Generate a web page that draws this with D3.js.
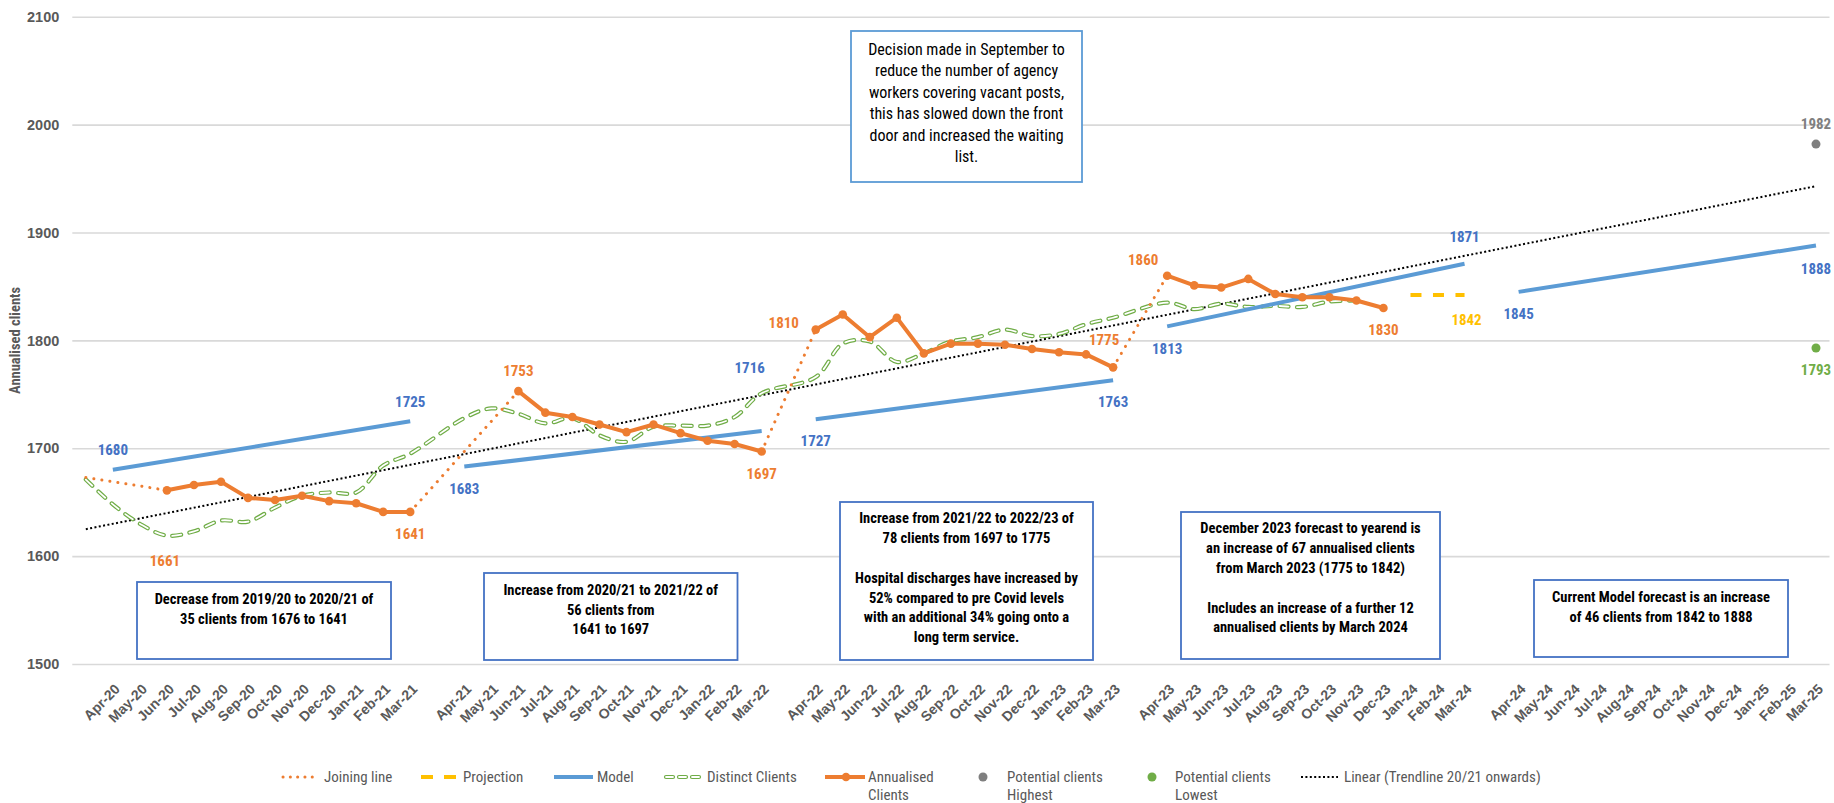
<!DOCTYPE html>
<html>
<head>
<meta charset="utf-8">
<script src="https://cdn.jsdelivr.net/npm/d3@7"></script>
<style>
  body { margin: 0; background: #fff; }
  svg { display: block; font-family: "Liberation Sans Narrow", "Arial Narrow", "Roboto Condensed", "Liberation Sans", sans-serif; }
</style>
</head>
<body>
<svg width="1834" height="803"></svg>
<script>
// category axis: blank category between financial years (and one before Apr-20)
var tickLabels = ["",
  "Apr-20","May-20","Jun-20","Jul-20","Aug-20","Sep-20","Oct-20","Nov-20","Dec-20","Jan-21","Feb-21","Mar-21", "",
  "Apr-21","May-21","Jun-21","Jul-21","Aug-21","Sep-21","Oct-21","Nov-21","Dec-21","Jan-22","Feb-22","Mar-22", "",
  "Apr-22","May-22","Jun-22","Jul-22","Aug-22","Sep-22","Oct-22","Nov-22","Dec-22","Jan-23","Feb-23","Mar-23", "",
  "Apr-23","May-23","Jun-23","Jul-23","Aug-23","Sep-23","Oct-23","Nov-23","Dec-23","Jan-24","Feb-24","Mar-24", "",
  "Apr-24","May-24","Jun-24","Jul-24","Aug-24","Sep-24","Oct-24","Nov-24","Dec-24","Jan-25","Feb-25","Mar-25"];

var yTicks = [1500, 1600, 1700, 1800, 1900, 2000, 2100];

var annualised = [null,
  null, null, 1661, 1666, 1669, 1654, 1652, 1656, 1651, 1649, 1641, 1641, null,
  null, null, 1753, 1733, 1729, 1722, 1715, 1722, 1714, 1707, 1704, 1697, null,
  1810, 1824, 1803, 1821, 1788, 1797, 1797, 1796, 1792, 1789, 1787, 1775, null,
  1860, 1851, 1849, 1857, 1843, 1840, 1840, 1837, 1830, null, null, null, null,
  null, null, null, null, null, null, null, null, null, null, null, null];

var distinct = [1671,
  1648, 1630, 1619, 1623, 1633, 1632, 1645, 1656, 1659, 1659, 1684, 1695, null,
  1728, 1737, 1732, 1723, 1728, 1712, 1706, 1720, 1721, 1721, 1729, 1751, null,
  1766, 1797, 1799, 1780, 1788, 1799, 1803, 1810, 1804, 1806, 1815, 1821, null,
  1835, 1829, 1834, 1831, 1832, 1831, 1836, 1837, null, null, null, null, null,
  null, null, null, null, null, null, null, null, null, null, null, null];

var projectionCats = ["Jan-24", "Feb-24", "Mar-24"];
var projection = [1842, 1842, 1842];

// joining line: year end value to first annualised value of next year
var joinFrom = [0, 12, 25, 38];
var joinTo = [3, 16, 27, 40];
var joinStart = [1673, 1641, 1697, 1775];
var joinEnd = [1661, 1753, 1810, 1860];

var modelFrom = ["Apr-20", "Apr-21", "Apr-22", "Apr-23", "Apr-24"];
var modelTo = ["Mar-21", "Mar-22", "Mar-23", "Mar-24", "Mar-25"];
var modelStart = [1680, 1683, 1727, 1813, 1845];
var modelEnd = [1725, 1716, 1763, 1871, 1888];

var trendStart = 1625, trendEnd = 1943;   // linear trendline at first / last category

var potentialCat = "Mar-25";
var potentialHigh = 1982, potentialLow = 1793;

var orange = "#ED7D31", blue = "#5B9BD5", darkBlue = "#4472C4", green = "#70AD47",
    yellow = "#FFC000", grey = "#7F7F7F", textGrey = "#595959";

var svg = d3.select("svg");
var plotLeft = 72.3, plotRight = 1829.5, plotTop = 16.8, plotBottom = 664;

var x = d3.scaleBand().domain(d3.range(tickLabels.length)).range([plotLeft, plotRight]);
var y = d3.scaleLinear().domain([1500, 2100]).range([plotBottom, plotTop]);
function cx(i) { return x(i) + x.bandwidth() / 2; }
function idx(label) { return tickLabels.indexOf(label); }

// gridlines + y labels
svg.append("g").attr("transform", "translate(" + plotLeft + ",0)")
    .call(d3.axisLeft(y).tickValues(yTicks).tickFormat(d3.format("d"))
        .tickSize(-(plotRight - plotLeft)).tickPadding(13))
    .call(function (g) {
        g.select(".domain").remove();
        g.selectAll("line").attr("stroke", "#d9d9d9").attr("stroke-width", 1.6);
        g.selectAll("text").attr("fill", textGrey).style("font-size", "14.5px").style("font-weight", "bold");
    });

// x labels
svg.append("g").attr("transform", "translate(0," + plotBottom + ")")
    .call(d3.axisBottom(x).tickFormat(function (i) { return tickLabels[i]; }).tickSize(0))
    .call(function (g) {
        g.select(".domain").remove();
        g.selectAll("text")
            .attr("y", 0).attr("dy", 0)
            .attr("text-anchor", "end")
            .attr("transform", "translate(8,26) rotate(-45)")
            .attr("fill", textGrey)
            .style("font-size", "14px").style("font-weight", "bold");
    });

// y title
svg.append("text")
    .attr("transform", "translate(20," + ((plotTop + plotBottom) / 2) + ") rotate(-90)")
    .attr("text-anchor", "middle")
    .attr("fill", textGrey).style("font-size", "14.5px").style("font-weight", "bold")
    .text("Annualised clients");

var line = d3.line().x(function (d) { return cx(d[0]); }).y(function (d) { return y(d[1]); });

// trendline
svg.append("path")
    .attr("d", line([[0, trendStart], [tickLabels.length - 1, trendEnd]]))
    .attr("fill", "none").attr("stroke", "#000").attr("stroke-width", 2)
    .attr("stroke-dasharray", "2 2.4");

// distinct clients: hollow dashes (outer green, inner white)
var distinctPts = distinct.map(function (v, i) { return [i, v]; }).filter(function (d) { return d[1] != null; });
var smooth = d3.line().curve(d3.curveCatmullRom.alpha(0.5))
    .x(function (d) { return cx(d[0]); }).y(function (d) { return y(d[1]); });
svg.append("path").attr("d", smooth(distinctPts))
    .attr("fill", "none").attr("stroke", green).attr("stroke-width", 4.2)
    .attr("stroke-linecap", "round").attr("stroke-dasharray", "9 8.5");
svg.append("path").attr("d", smooth(distinctPts))
    .attr("fill", "none").attr("stroke", "#fff").attr("stroke-width", 1.8)
    .attr("stroke-linecap", "round").attr("stroke-dasharray", "9 8.5");

// model
modelStart.forEach(function (v, k) {
    svg.append("path")
        .attr("d", line([[idx(modelFrom[k]), v], [idx(modelTo[k]), modelEnd[k]]]))
        .attr("fill", "none").attr("stroke", blue).attr("stroke-width", 4);
});

// joining line
joinStart.forEach(function (v, k) {
    svg.append("path")
        .attr("d", line([[joinFrom[k], v], [joinTo[k], joinEnd[k]]]))
        .attr("fill", "none").attr("stroke", orange).attr("stroke-width", 3)
        .attr("stroke-linecap", "round").attr("stroke-dasharray", "0.1 8");
});

// projection
svg.append("path")
    .attr("d", line(projection.map(function (v, k) { return [idx(projectionCats[k]), v]; })))
    .attr("fill", "none").attr("stroke", yellow).attr("stroke-width", 4)
    .attr("stroke-dasharray", "11 11.5");

// annualised clients
var annPts = annualised.map(function (v, i) { return [i, v]; });
svg.append("path")
    .attr("d", d3.line().defined(function (d) { return d[1] != null; })
        .x(function (d) { return cx(d[0]); }).y(function (d) { return y(d[1]); })(annPts))
    .attr("fill", "none").attr("stroke", orange).attr("stroke-width", 4).attr("stroke-linejoin", "round");
svg.append("g").selectAll("circle")
    .data(annPts.filter(function (d) { return d[1] != null; }))
    .enter().append("circle")
    .attr("cx", function (d) { return cx(d[0]); })
    .attr("cy", function (d) { return y(d[1]); })
    .attr("r", 4.3).attr("fill", orange);

// potential clients
svg.append("circle").attr("cx", cx(idx(potentialCat))).attr("cy", y(potentialHigh)).attr("r", 4.5).attr("fill", grey);
svg.append("circle").attr("cx", cx(idx(potentialCat))).attr("cy", y(potentialLow)).attr("r", 4.5).attr("fill", green);

// data labels (value, category index, offset)
var labels = [
    [modelStart[0], idx(modelFrom[0]), 0, -20, darkBlue],
    [modelEnd[0], idx(modelTo[0]), 0, -20, darkBlue],
    [modelStart[1], idx(modelFrom[1]), 0, 22, darkBlue],
    [modelEnd[1], idx(modelTo[1]), -12, -63, darkBlue],
    [modelStart[2], idx(modelFrom[2]), 0, 22, darkBlue],
    [modelEnd[2], idx(modelTo[2]), 0, 21, darkBlue],
    [modelStart[3], idx(modelFrom[3]), 0, 22, darkBlue],
    [modelEnd[3], idx(modelTo[3]), 0, -27, darkBlue],
    [modelStart[4], idx(modelFrom[4]), 0, 22, darkBlue],
    [modelEnd[4], idx(modelTo[4]), 0, 23, darkBlue],
    [annualised[3], 3, -2, 70, orange],
    [annualised[12], 12, 0, 22, orange],
    [annualised[16], 16, 0, -20, orange],
    [annualised[25], 25, 0, 22, orange],
    [annualised[27], 27, -32, -7, orange],
    [annualised[38], 38, -9, -28, orange],
    [annualised[40], 40, -24, -16, orange],
    [annualised[48], 48, 0, 22, orange],
    [projection[2], idx(projectionCats[2]), 2, 25, yellow],
    [potentialHigh, idx(potentialCat), 0, -20, grey],
    [potentialLow, idx(potentialCat), 0, 22, green]
];
svg.append("g").selectAll("text").data(labels).enter().append("text")
    .attr("x", function (d) { return cx(d[1]) + d[2]; })
    .attr("y", function (d) { return y(d[0]) + d[3]; })
    .attr("dy", "0.35em").attr("text-anchor", "middle")
    .attr("fill", function (d) { return d[4]; })
    .style("font-size", "15px").style("font-weight", "bold")
    .text(function (d) { return d[0]; });

// annotation boxes
var notes = [
    { box: [137, 582, 391, 659], first: 599, step: 20, bold: true, border: darkBlue,
      lines: ["Decrease from 2019/20 to 2020/21 of", "35 clients from 1676 to 1641"] },
    { box: [484, 573, 737.5, 660], first: 590, step: 19.7, bold: true, border: darkBlue,
      lines: ["Increase from 2020/21 to 2021/22 of", "56 clients from", "1641 to 1697"] },
    { box: [840, 502, 1093, 660], first: 518.3, step: 19.8, bold: true, border: darkBlue,
      lines: ["Increase from 2021/22 to 2022/23 of", "78 clients from 1697 to 1775", "",
              "Hospital discharges have increased by", "52% compared to pre Covid levels",
              "with an additional 34% going onto a", "long term service."] },
    { box: [1181, 512, 1440, 659], first: 528.3, step: 19.8, bold: true, border: darkBlue,
      lines: ["December 2023 forecast to yearend is", "an increase of 67 annualised clients",
              "from March 2023 (1775 to 1842)", "", "Includes an increase of a further 12",
              "annualised clients by March 2024"] },
    { box: [1534, 580, 1788, 657], first: 596.7, step: 20, bold: true, border: darkBlue,
      lines: ["Current Model forecast is an increase", "of 46 clients from 1842 to 1888"] },
    { box: [851, 31, 1082, 182], first: 49, step: 21.5, bold: false, border: blue,
      lines: ["Decision made in September to", "reduce the number of agency",
              "workers covering vacant posts,", "this has slowed down the front",
              "door and increased the waiting", "list."] }
];
notes.forEach(function (n) {
    var g = svg.append("g");
    g.append("rect").attr("x", n.box[0]).attr("y", n.box[1])
        .attr("width", n.box[2] - n.box[0]).attr("height", n.box[3] - n.box[1])
        .attr("fill", "#fff").attr("stroke", n.border).attr("stroke-width", 1.8);
    g.selectAll("text").data(n.lines).enter().append("text")
        .attr("x", (n.box[0] + n.box[2]) / 2)
        .attr("y", function (d, i) { return n.first + i * n.step; })
        .attr("dy", "0.35em").attr("text-anchor", "middle").attr("fill", "#000")
        .style("font-size", n.bold ? "14.5px" : "16px")
        .style("font-weight", n.bold ? "bold" : "normal")
        .text(function (d) { return d; });
});

// legend
var lg = svg.append("g").style("font-size", "15px").attr("fill", textGrey);
var ly = 777;
function legendText(xp, lines) {
    lines.forEach(function (t, i) {
        lg.append("text").attr("x", xp).attr("y", ly + i * 18).attr("dy", "0.35em").text(t);
    });
}
lg.append("line").attr("x1", 283).attr("x2", 319).attr("y1", ly).attr("y2", ly)
    .attr("stroke", orange).attr("stroke-width", 3).attr("stroke-linecap", "round").attr("stroke-dasharray", "0.1 7.2");
legendText(324, ["Joining line"]);
lg.append("line").attr("x1", 421).attr("x2", 456).attr("y1", ly).attr("y2", ly)
    .attr("stroke", yellow).attr("stroke-width", 4).attr("stroke-dasharray", "12 11");
legendText(463, ["Projection"]);
lg.append("line").attr("x1", 554).attr("x2", 593).attr("y1", ly).attr("y2", ly)
    .attr("stroke", blue).attr("stroke-width", 4);
legendText(597, ["Model"]);
lg.append("line").attr("x1", 666).attr("x2", 700).attr("y1", ly).attr("y2", ly)
    .attr("stroke", green).attr("stroke-width", 4.2).attr("stroke-linecap", "round").attr("stroke-dasharray", "7 6");
lg.append("line").attr("x1", 666).attr("x2", 700).attr("y1", ly).attr("y2", ly)
    .attr("stroke", "#fff").attr("stroke-width", 1.8).attr("stroke-linecap", "round").attr("stroke-dasharray", "7 6");
legendText(707, ["Distinct Clients"]);
lg.append("line").attr("x1", 825).attr("x2", 865).attr("y1", ly).attr("y2", ly)
    .attr("stroke", orange).attr("stroke-width", 4);
lg.append("circle").attr("cx", 846).attr("cy", ly).attr("r", 4.3).attr("fill", orange);
legendText(868, ["Annualised", "Clients"]);
lg.append("circle").attr("cx", 983).attr("cy", ly).attr("r", 4.5).attr("fill", grey);
legendText(1007, ["Potential clients", "Highest"]);
lg.append("circle").attr("cx", 1152).attr("cy", ly).attr("r", 4.5).attr("fill", green);
legendText(1175, ["Potential clients", "Lowest"]);
lg.append("line").attr("x1", 1301).attr("x2", 1338).attr("y1", ly).attr("y2", ly)
    .attr("stroke", "#000").attr("stroke-width", 2).attr("stroke-dasharray", "2 2.4");
legendText(1344, ["Linear (Trendline 20/21 onwards)"]);
</script>
</body>
</html>
